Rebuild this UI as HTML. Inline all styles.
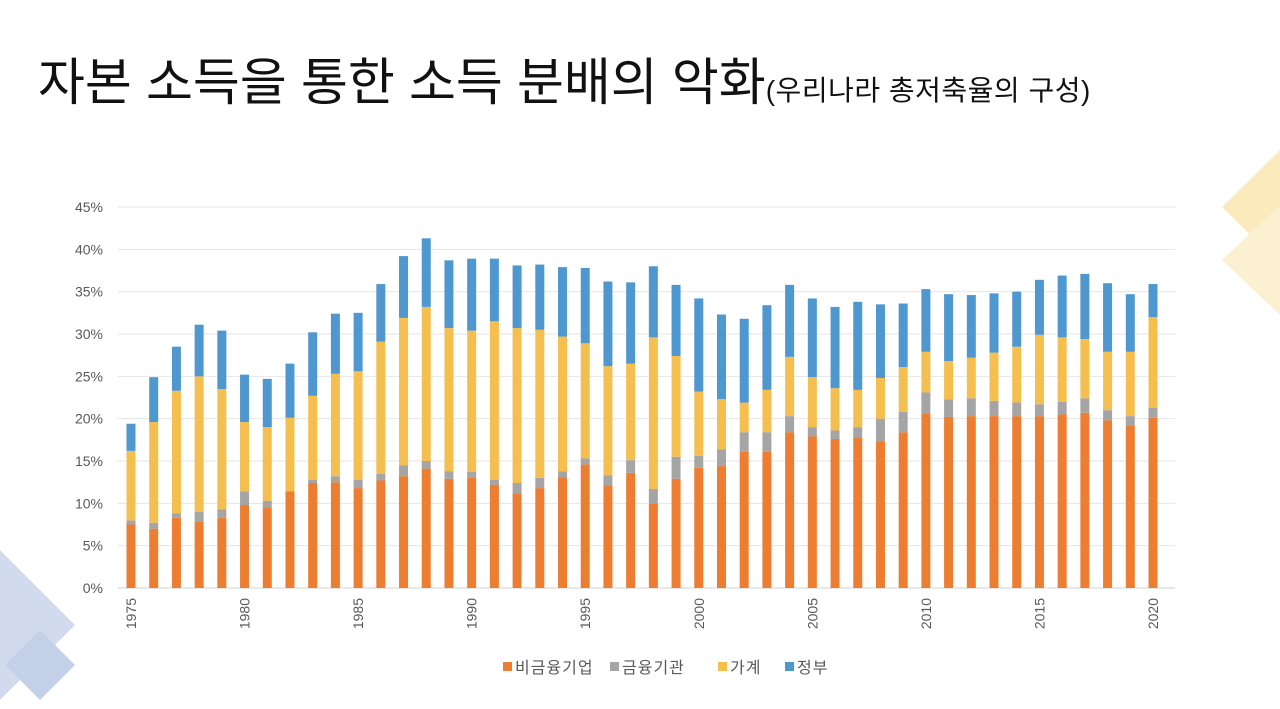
<!DOCTYPE html>
<html><head><meta charset="utf-8"><style>
body{margin:0;width:1280px;height:709px;overflow:hidden;background:#fff;font-family:"Liberation Sans","Noto Sans CJK KR",sans-serif;position:relative}
#title{position:absolute;left:38px;top:41px;font-size:51px;color:#111;white-space:nowrap;letter-spacing:0px}
#title span{font-size:28px;letter-spacing:0.5px}
svg{position:absolute;left:0;top:0}
</style></head><body>
<svg width="1280" height="709">
<g opacity="0.35">
<polygon points="1280,150 1222,207 1280,264" fill="#f5c842"/>
<polygon points="1280,205 1222,260 1280,315" fill="#f5d97a"/>
<polygon points="0,550 75,625 0,700" fill="#7f9bd0"/>
<polygon points="40,630 75,665 40,700 5,665" fill="#5a7cc0"/>
</g>
</svg>
<div id="title">자본 소득을 통한 소득 분배의 악화<span>(우리나라 총저축율의 구성)</span></div>
<svg id="chart" width="1280" height="709"></svg>
<script>
const years=[];for(let y=1975;y<=2020;y++)years.push(y);
const nonFin=[7.5,7.0,8.3,7.8,8.3,9.8,9.5,11.4,12.4,12.5,11.8,12.7,13.2,14.1,12.9,13.0,12.2,11.2,11.8,13.1,14.6,12.1,13.6,10.0,12.9,14.2,14.4,16.1,16.1,18.4,17.9,17.6,17.8,17.3,18.4,20.6,20.2,20.3,20.3,20.3,20.3,20.5,20.7,19.8,19.2,20.1];
const fin=[0.5,0.7,0.5,1.2,1.0,1.6,0.8,0,0.4,0.7,1.0,0.8,1.3,0.9,0.9,0.7,0.6,1.2,1.2,0.7,0.7,1.2,1.5,1.7,2.6,1.4,2.0,2.3,2.3,1.9,1.1,1.0,1.2,2.7,2.4,2.5,2.1,2.1,1.8,1.6,1.4,1.5,1.7,1.2,1.1,1.2];
const household=[8.2,11.9,14.5,16.0,14.2,8.2,8.7,8.7,9.9,12.1,12.8,15.6,17.4,18.2,16.9,16.7,18.7,18.3,17.5,15.9,13.6,12.9,11.4,17.9,11.9,7.6,5.9,3.5,5.0,7.0,5.9,5.0,4.4,4.8,5.3,4.8,4.5,4.8,5.7,6.6,8.2,7.6,7.0,6.9,7.6,10.7];
const gov=[3.2,5.3,5.2,6.1,6.9,5.6,5.7,6.4,7.5,7.1,6.9,6.8,7.3,8.1,8.0,8.5,7.4,7.4,7.7,8.2,8.9,10.0,9.6,8.4,8.4,11.0,10.0,9.9,10.0,8.5,9.3,9.6,10.4,8.7,7.5,7.4,7.9,7.4,7.0,6.5,6.5,7.3,7.7,8.1,6.8,3.9];
const yTicks=[0,5,10,15,20,25,30,35,40,45];
const seriesNames=['비금융기업','금융기관','가계','정부'];
const colors=['#ed7d31','#a5a5a5','#f5bf4f','#4e97cf'];
const NS='http://www.w3.org/2000/svg';
const svg=document.getElementById('chart');
const y0=588,pxPer=(588-207)/45;
const yS=v=>y0-v*pxPer;
const xS=yr=>131+(yr-1975)*(1153-131)/45;
function el(t,a){const e=document.createElementNS(NS,t);for(const k in a)e.setAttribute(k,a[k]);svg.appendChild(e);return e;}
yTicks.forEach(t=>{
 const l=el('line',{x1:118,x2:1175,y1:yS(t),y2:yS(t),stroke:t===0?'#d0d0d0':'#e6e6e6','stroke-width':1});
 
 
 const tx=el('text',{x:103,y:yS(t)+5,'text-anchor':'end','font-size':14,fill:'#595959'});
 tx.textContent=t+'%';
 
 
});
const series=[nonFin,fin,household,gov];
years.forEach((yr,i)=>{
 let acc=0;const cx=xS(yr);
 series.forEach((s,j)=>{
  const v=s[i];
  const r=el('rect',{x:cx-4.5,y:yS(acc+v),width:9,height:v*pxPer,fill:colors[j]});
  
  
  acc+=v;
 });
 if(yr%5===0){
  const tx=el('text',{x:0,y:0,'text-anchor':'end','font-size':14,fill:'#595959',transform:`translate(${cx+5},598) rotate(-90)`});
  tx.textContent=yr;
  
  
 }
});
const lx=[503,610,718,785];
seriesNames.forEach((n,j)=>{
 const r=el('rect',{x:lx[j],y:662,width:9,height:9,fill:colors[j]});
 
 
 const t=el('text',{x:lx[j]+12,y:673,'font-size':16,fill:'#595959','letter-spacing':'1'});
 t.textContent=n;
 
 
});
</script>
</body></html>
